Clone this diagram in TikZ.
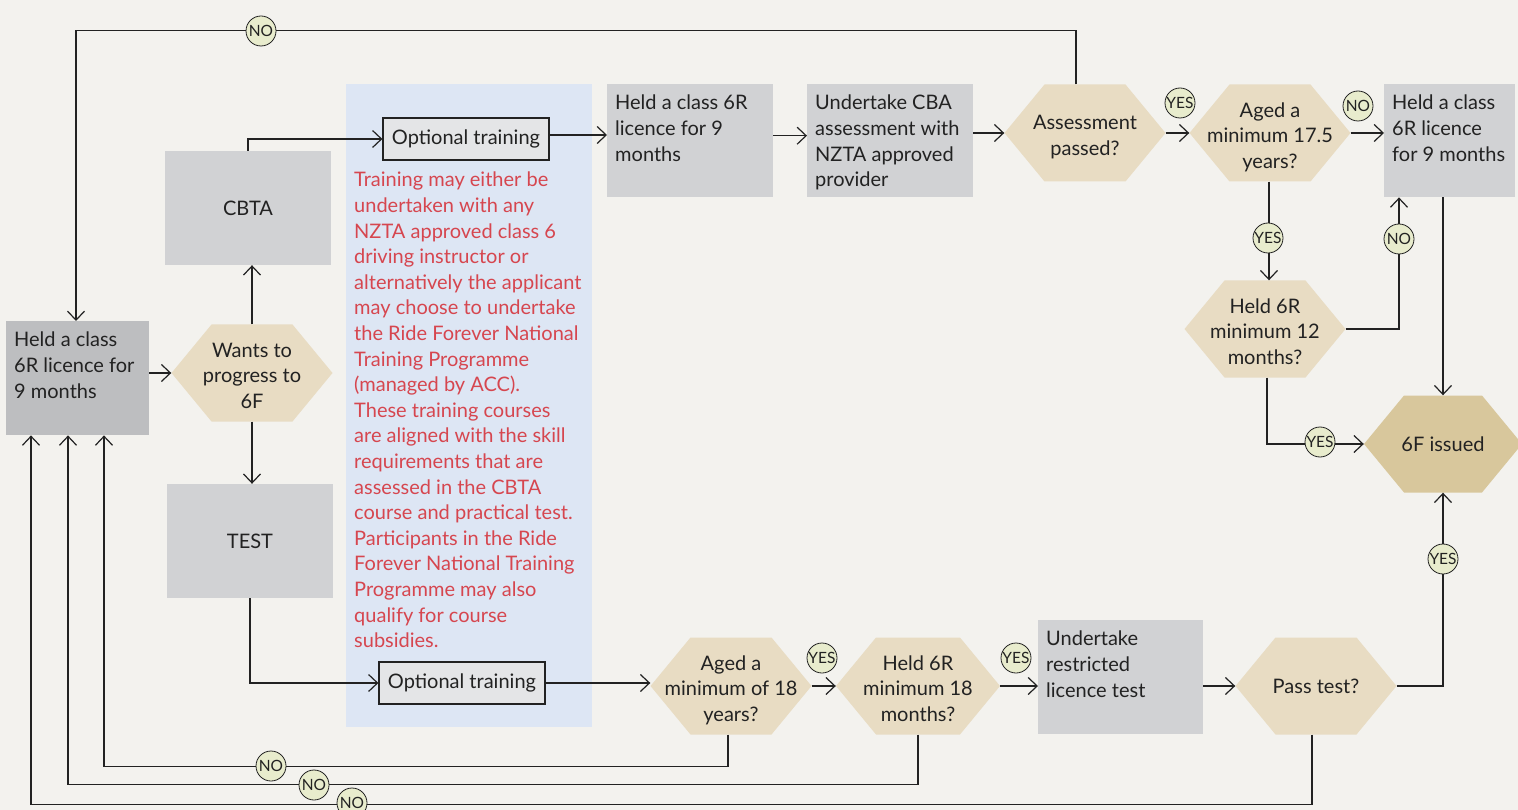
\documentclass[tikz,border=0pt]{standalone}
\usepackage{fontspec}
\setmainfont{Lato}
\usetikzlibrary{arrows.meta}
\definecolor{bg}{HTML}{F3F2EE}
\definecolor{boxgray}{HTML}{D1D2D4}
\definecolor{boxdark}{HTML}{BDBEC0}
\definecolor{hexcol}{HTML}{E8DCC3}
\definecolor{hexdark}{HTML}{D8C79C}
\definecolor{circfill}{HTML}{E8ECCD}
\definecolor{panel}{HTML}{DDE6F4}
\definecolor{redtxt}{HTML}{D6464F}
\definecolor{optfill}{HTML}{E4E5E7}
\definecolor{ink}{HTML}{222222}
\newcommand\tlbox[3]{\parbox[c][#2][t]{#1}{\vskip 11pt\raggedright #3}}
\newcommand\hx[1]{\raisebox{-4.5pt}[\height][\depth]{\begin{tabular}{@{}c@{}}#1\end{tabular}}}
\begin{document}
\begin{tikzpicture}[x=1pt,y=-1pt,
  font=\fontsize{20}{25.6}\selectfont, text=ink,
  arr/.style={draw=ink, line width=1.2pt, -{Straight Barb[length=9pt,width=17pt]}},
  graybox/.style={fill=boxgray, inner xsep=8pt, inner ysep=0pt},
  cbox/.style={fill=boxgray, minimum width=166pt, minimum height=114pt, inner sep=0pt},
  optbox/.style={draw=ink, line width=1.2pt, fill=optfill, minimum width=166pt, minimum height=42pt, inner sep=0pt},
  yn/.style={circle, draw=ink, fill=circfill, minimum size=30pt, inner sep=0pt, line width=0.8pt, font=\fontsize{15.5}{15.5}\selectfont},
  hex/.style={minimum width=161pt, minimum height=97pt, inner sep=0pt, align=center,
    path picture={\fill[#1] (path picture bounding box.west) -- ([xshift=40pt]path picture bounding box.north west) -- ([xshift=-40pt]path picture bounding box.north east) -- (path picture bounding box.east) -- ([xshift=-40pt]path picture bounding box.south east) -- ([xshift=40pt]path picture bounding box.south west) -- cycle;}},
  hex/.default=hexcol
]
\useasboundingbox (0,0) rectangle (1518,810);
\fill[bg] (0,0) rectangle (1518,810);
\fill[panel] (346,84) rectangle (592,727);

% nodes
\node[graybox, fill=boxdark, anchor=north west] (left) at (6,321) {\tlbox{127pt}{114pt}{Held a class\\6R licence for\\9 months}};
\node[hex] (wants) at (252,373) {\hx{Wants to\\progress to\\6F}};
\node[cbox] (cbta) at (248,208) {CBTA};
\node[cbox] (test) at (250,541) {TEST};
\node[optbox] (opt1) at (466,139) {Optional training};
\node[optbox] (opt2) at (462,683) {Optional training};
\node[anchor=north west, inner sep=0pt, align=left, text=redtxt] (note) at (354,172) {Training may either be\\undertaken with any\\NZTA approved class 6\\driving instructor or\\alternatively the applicant\\may choose to undertake\\the Ride Forever National\\Training Programme\\(managed by ACC).\\These training courses\\are aligned with the skill\\requirements that are\\assessed in the CBTA\\course and practical test.\\Participants in the Ride\\Forever National Training\\Programme may also\\qualify for course\\subsidies.};
\node[graybox, anchor=north west] (h6r) at (607,84) {\tlbox{150pt}{113pt}{Held a class 6R\\licence for 9\\months}};
\node[graybox, anchor=north west] (cba) at (807,84) {\tlbox{150pt}{113pt}{Undertake CBA\\assessment with\\NZTA approved\\provider}};
\node[hex] (assess) at (1085,133) {\hx{Assessment\\passed?}};
\node[hex] (age175) at (1270,133) {\hx{Aged a\\minimum 17.5\\years?}};
\node[graybox, anchor=north west] (rhold) at (1384,84) {\tlbox{115pt}{113pt}{Held a class\\6R licence\\for 9 months}};
\node[hex] (held12) at (1265,329) {\hx{Held 6R\\minimum 12\\months?}};
\node[hex=hexdark, minimum width=158pt] (six) at (1443,444) {6F issued};
\node[hex] (age18) at (731,686) {\hx{Aged a\\minimum of 18\\years?}};
\node[hex, minimum width=164pt] (held18) at (918,686) {\hx{Held 6R\\minimum 18\\months?}};
\node[graybox, anchor=north west] (urt) at (1038,620) {\tlbox{149pt}{114pt}{Undertake\\restricted\\licence test}};
\node[hex] (pass) at (1316,686) {Pass test?};

% connectors
\draw[arr] (wants.west -| left.east) -- (wants.west);
\draw[arr] (wants.north) -- (wants.north |- cbta.south);
\draw[arr] (wants.south) -- (wants.south |- test.north);
\draw[arr] (cbta.north) |- (opt1.west);
\draw[arr] (test.south) |- (opt2.west);
\draw[arr] ([yshift=4pt]opt1.east) -- ([yshift=4pt]opt1.east -| h6r.west);
\draw[arr] ([yshift=5pt]h6r.east) -- ([yshift=5pt]cba.west);
\draw[arr] (assess.west -| cba.east) -- (assess.west);
\draw[arr] (assess.east) -- (age175.west);
\draw[arr] (age175.east) -- (age175.east -| rhold.west);
\draw[arr] ([xshift=-9pt]assess.north) -- ++(0,-54) -| ([xshift=70pt]left.north west);
\draw[arr] ([xshift=-1pt]age175.south) -- ([xshift=-1pt]age175.south |- held12.north);
\draw[arr] (held12.east) -| ([xshift=15pt]rhold.south west);
\draw[arr] (rhold.south -| six.north) -- (six.north);
\draw[arr] ([xshift=2pt]held12.south) |- (six.west);
\draw[arr] (pass.east) -| (six.south);
\draw[arr] (opt2.east) -- (opt2.east -| age18.west);
\draw[arr] (age18.east) -- (held18.west);
\draw[arr] (held18.east) -- (held18.east -| urt.west);
\draw[arr] (pass.west -| urt.east) -- (pass.west);
\draw[arr] ([xshift=-3pt]age18.south) -- ++(0,32) -| ([xshift=98pt]left.south west);
\draw[arr] (held18.south) -- ++(0,50) -| ([xshift=62pt]left.south west);
\draw[arr] ([xshift=-4pt]pass.south) -- ++(0,70) -| ([xshift=25pt]left.south west);

% yes/no markers
\node[yn] (n1) at (261,31) {NO};
\node[yn] (y1) at (1180,103) {YES};
\node[yn] (n2) at (1358,106) {NO};
\node[yn] (y2) at (1268,238) {YES};
\node[yn] (n3) at (1399,239) {NO};
\node[yn] (y3) at (1320,442) {YES};
\node[yn] (y4) at (1443,559) {YES};
\node[yn] (y5) at (822,658) {YES};
\node[yn] (y6) at (1016,658) {YES};
\node[yn] (n4) at (271,766) {NO};
\node[yn] (n5) at (314,785) {NO};
\node[yn] (n6) at (352,803) {NO};
\end{tikzpicture}
\end{document}
